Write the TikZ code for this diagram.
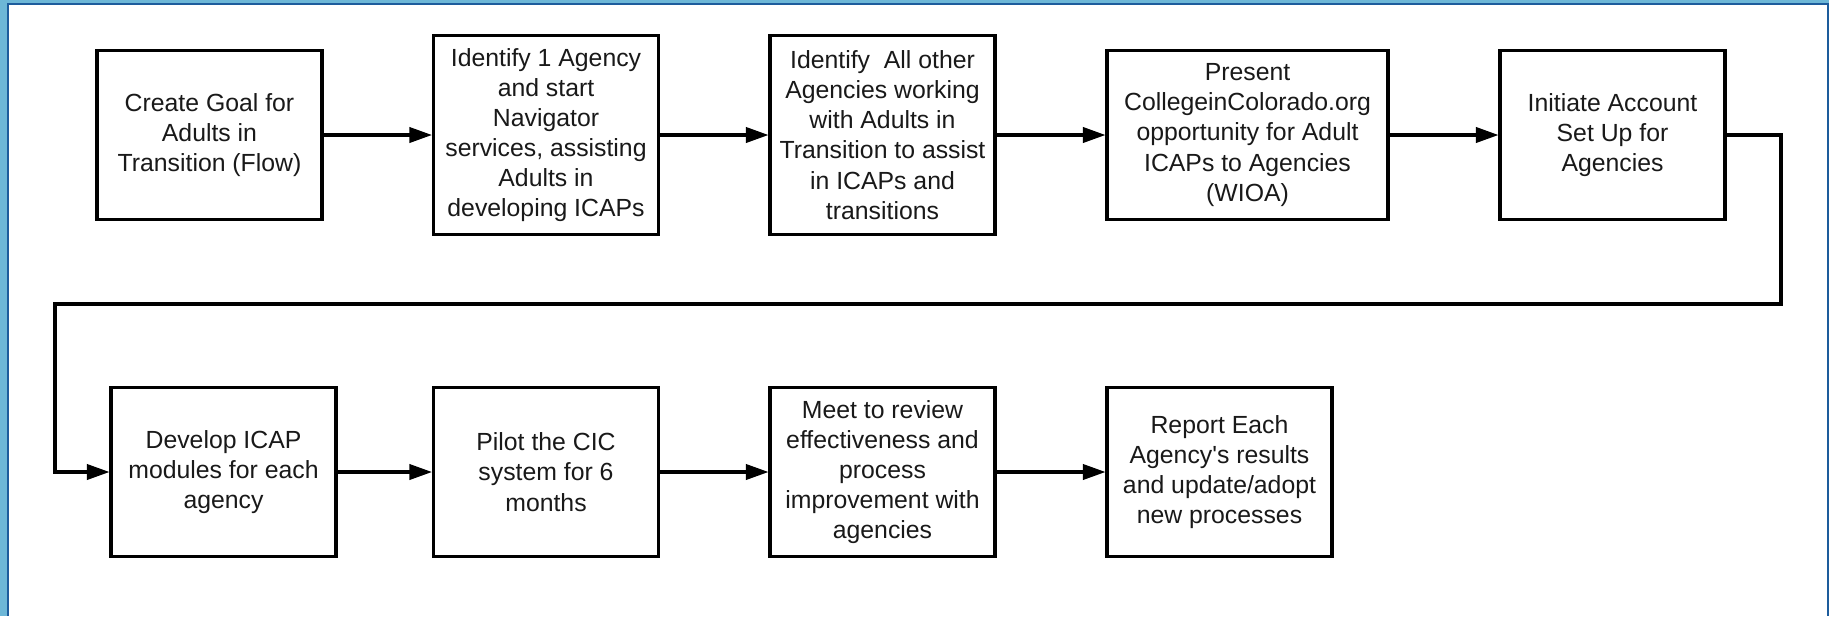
\documentclass[tikz,border=0pt]{standalone}
\usepackage{fontspec}
\setmainfont{Liberation Sans}
\usetikzlibrary{arrows.meta}

\definecolor{frameLight}{HTML}{6DB7D7}
\definecolor{frameDark}{HTML}{1D5C9C}

\begin{document}
\begin{tikzpicture}[x=0.75bp,y=-0.75bp,
    box/.style={draw=black,line width=2.3bp,fill=white,align=center,inner sep=0pt,
      minimum width=168.75bp,minimum height=126.75bp,
      font=\fontsize{18.6bp}{22.6bp}\selectfont,text=black!90},
    flow/.style={line width=2.3bp,-{Triangle[length=17bp,width=11.5bp]}}]
            % frame
            \fill[white] (0,0) rectangle (1829,616);
            \fill[frameLight] (0,0) rectangle (7,616);
            \fill[frameLight] (0,0) rectangle (1829,3);
            \fill[frameDark] (7,3) rectangle (9,616);
            \fill[frameDark] (7,3) rectangle (1829,5);
            \fill[frameDark] (1827,3) rectangle (1829,616);
            \useasboundingbox (0,0) rectangle (1829,616);

            % first row
            \node[box] (goal) at (209.5,135) {Create Goal for\\Adults in\\Transition (Flow)};
            \node[box,minimum height=149.25bp] (nav) at (546,135) {Identify 1 Agency\\and start\\Navigator\\services, assisting\\Adults in\\developing ICAPs};
            \node[box,minimum height=149.25bp] (others) at (882.5,135) {Identify\ \ All other\\Agencies working\\with Adults in\\Transition to assist\\in ICAPs and\\transitions};
            \node[box,minimum width=210.75bp] (cic) at (1247.5,135) {Present\\CollegeinColorado.org\\opportunity for Adult\\ICAPs to Agencies\\(WIOA)};
            \node[box] (acct) at (1612.5,135) {Initiate Account\\Set Up for\\Agencies};

            % second row
            \node[box] (icap) at (223.5,472) {Develop ICAP\\modules for each\\agency};
            \node[box] (pilot) at (546,472) {Pilot the CIC\\system for 6\\months};
            \node[box] (review) at (882.5,472) {Meet to review\\effectiveness and\\process\\improvement with\\agencies};
            \node[box] (report) at (1219.5,472) {Report Each\\Agency\textquotesingle s results\\and update/adopt\\new processes};

            % arrows
            \draw[flow] (goal) -- (nav);
            \draw[flow] (nav) -- (others);
            \draw[flow] (others) -- (cic);
            \draw[flow] (cic) -- (acct);
            \coordinate (bendR) at (1781,304);
            \coordinate (bendL) at (55,304);
            \draw[flow] (acct.east) -| (bendR) -- (bendL) |- (icap.west);
            \draw[flow] (icap) -- (pilot);
            \draw[flow] (pilot) -- (review);
            \draw[flow] (review) -- (report);
\end{tikzpicture}
\end{document}
